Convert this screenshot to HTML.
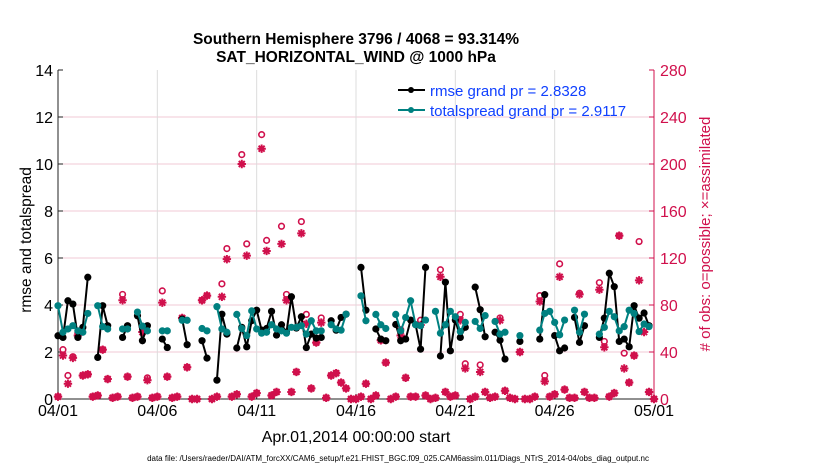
<!DOCTYPE html>
<html><head><meta charset="utf-8"><style>
body{margin:0;background:#fff;}
svg{display:block;font-family:"Liberation Sans",Arial,sans-serif;}
</style></head><body>
<svg id="chart" width="830" height="470" viewBox="0 0 830 470" xmlns="http://www.w3.org/2000/svg">
<text x="356" y="44" text-anchor="middle" font-size="15.5" font-weight="bold">Southern Hemisphere 3796 / 4068 = 93.314%</text>
<text x="356" y="62" text-anchor="middle" font-size="15.5" font-weight="bold">SAT_HORIZONTAL_WIND @ 1000 hPa</text>
<g id="grid"></g>
<g id="axes"></g>
<g id="marks"></g>
<g>
<line x1="398" y1="90" x2="425" y2="90" stroke="#000" stroke-width="2"/><circle cx="411" cy="90" r="3" fill="#000"/>
<text x="430" y="96" font-size="15" fill="#1040ff">rmse grand pr = 2.8328</text>
<line x1="398" y1="110" x2="425" y2="110" stroke="#008080" stroke-width="2"/><circle cx="411" cy="110" r="3" fill="#008080"/>
<text x="430" y="116" font-size="15" fill="#1040ff">totalspread grand pr = 2.9117</text>
</g>
<text transform="translate(31,240) rotate(-90)" text-anchor="middle" font-size="15.5">rmse and totalspread</text>
<text transform="translate(710,234) rotate(-90)" text-anchor="middle" font-size="15" fill="#d0104c"># of obs: o=possible; ×=assimilated</text>
<text x="356" y="442" text-anchor="middle" font-size="16">Apr.01,2014 00:00:00 start</text>
<text x="398" y="461" text-anchor="middle" font-size="8">data file: /Users/raeder/DAI/ATM_forcXX/CAM6_setup/f.e21.FHIST_BGC.f09_025.CAM6assim.011/Diags_NTrS_2014-04/obs_diag_output.nc</text>
</svg>
<script>
const xTickLabels=["04/01","04/06","04/11","04/16","04/21","04/26","05/01"];
const yLeftTicks=[0,2,4,6,8,10,12,14];
const yRightTicks=[0,40,80,120,160,200,240,280];
const N=121;
const rmse=[2.69,2.62,4.18,4.04,2.62,3.05,5.18,null,1.77,3.97,3.12,null,null,2.62,3.12,null,3.54,2.48,3.12,null,null,2.55,2.19,null,null,3.4,2.31,null,null,2.48,1.74,null,0.8,3.61,2.76,null,2.17,3.05,2.22,3.33,3.78,2.93,3.0,3.73,2.72,3.16,2.84,4.35,3.02,3.5,2.19,2.76,2.59,2.62,null,3.33,2.93,3.47,3.61,null,null,5.6,3.78,null,2.98,2.55,2.48,null,3.17,2.48,2.55,3.36,3.16,2.12,5.6,null,null,1.83,4.97,2.05,3.36,2.62,3.05,null,4.76,3.8,2.65,null,2.84,2.5,1.7,null,null,2.45,null,null,null,2.55,4.44,null,2.7,2.05,2.17,null,3.47,2.41,3.12,null,null,2.62,3.44,5.35,4.78,2.45,2.55,2.22,3.97,3.44,3.66,3.12,null];
const spread=[3.97,2.84,2.98,3.12,2.9,2.84,3.64,null,3.97,3.08,2.98,null,null,2.98,2.98,null,3.7,3.1,2.9,null,null,2.9,2.9,null,null,3.35,3.35,null,null,3.0,2.9,null,3.93,2.98,2.84,null,3.6,3.0,2.7,3.75,2.98,2.8,2.84,3.16,2.98,2.9,2.8,3.05,3.05,3.12,2.76,3.33,2.9,2.9,null,3.16,2.98,2.93,3.61,null,null,4.39,3.33,null,3.6,3.16,3.0,null,3.6,2.9,3.47,4.18,3.16,3.12,3.36,null,3.73,2.8,3.16,3.73,3.5,2.87,3.26,null,3.3,3.0,3.55,null,3.3,2.76,2.84,null,null,2.7,null,null,null,2.93,3.64,3.73,3.26,2.73,3.36,null,3.78,2.84,3.61,null,null,2.76,3.05,3.73,3.5,2.9,3.08,3.78,3.64,2.87,3.19,3.08,null];
const assimilated=[2,37,13,35,54,20,21,2,3,42,17,1,2,84,19,1,2,57,16,1,2,82,19,1,2,69,27,0,0,84,88,0,2,87,119,2,4,200,122,2,5,213,126,3,6,132,84,6,23,141,64,9,48,65,1,20,22,14,9,0,0,2,13,0,3,50,31,0,2,54,18,2,2,63,3,0,1,104,6,2,3,67,26,0,2,23,6,1,2,67,7,1,0,40,0,0,2,83,15,2,4,104,8,1,1,89,6,1,1,93,44,2,5,139,26,14,37,101,57,6,0];
const possible=[2,42,20,36,56,20,21,2,3,42,17,1,2,89,19,1,2,61,18,1,2,92,19,1,2,69,27,0,0,84,88,0,2,98,128,2,4,208,132,2,5,225,135,3,6,147,89,6,23,151,72,9,48,69,1,20,22,14,9,0,0,2,13,0,3,50,31,0,2,59,18,2,2,67,3,0,1,110,6,2,3,72,30,0,2,29,6,1,2,69,7,1,0,40,0,0,2,88,20,2,4,115,8,1,1,90,6,1,1,99,49,2,5,139,39,14,37,134,60,6,0];

const X0=58,X1=654,Y0=399,Y1=70;
const NS="http://www.w3.org/2000/svg";
function xScale(i){return X0+(X1-X0)*i/(N-1);}
function yLeft(v){return Y0-(Y0-Y1)*v/14;}
function yRight(v){return Y0-(Y0-Y1)*v/280;}
function mk(tag,attrs,parent){const e=document.createElementNS(NS,tag);for(const k in attrs)e.setAttribute(k,attrs[k]);parent.appendChild(e);return e;}
const grid=document.getElementById('grid'),axes=document.getElementById('axes'),marks=document.getElementById('marks');

yLeftTicks.forEach((v,k)=>{
  const y=yLeft(v);
  if(k>0&&k<yLeftTicks.length-1){
    const g=mk('line',{x1:X0,x2:X1,y1:y,y2:y,stroke:'#f2c8d6','stroke-width':1},grid);
    
    
  }
  const t=mk('text',{x:X0-5,y:y+6,'text-anchor':'end','font-size':16},axes);
  t.textContent=v;
  
  
  mk('line',{x1:X0,x2:X0+5,y1:y,y2:y,stroke:'#222'},axes);
});
yRightTicks.forEach(v=>{
  const y=yRight(v);
  const t=mk('text',{x:X1+6,y:y+6,'font-size':16,fill:'#d0104c'},axes);
  t.textContent=v;
  
  
  mk('line',{x1:X1-5,x2:X1,y1:y,y2:y,stroke:'#d0104c'},axes);
});
xTickLabels.forEach((lab,k)=>{
  const x=X0+(X1-X0)*k/6;
  if(k>0&&k<6){
    const g=mk('line',{x1:x,x2:x,y1:Y1,y2:Y0,stroke:'#dcdcdc','stroke-width':1},grid);
    
    
  }
  mk('line',{x1:x,x2:x,y1:Y0,y2:Y0-5,stroke:'#222'},axes);
  const t=mk('text',{x:x,y:Y0+17,'text-anchor':'middle','font-size':16},axes);
  t.textContent=lab;
  
  
});
const la=mk('line',{x1:X0,x2:X0,y1:Y1,y2:Y0,stroke:'#222','stroke-width':1},axes);


const ra=mk('line',{x1:X1,x2:X1,y1:Y1,y2:Y0,stroke:'#d0104c','stroke-width':1},axes);


const ba=mk('line',{x1:X0,x2:X1,y1:Y0,y2:Y0,stroke:'#222','stroke-width':1},axes);



possible.forEach((v,i)=>{
  if(v==null)return;
  const c=mk('circle',{cx:xScale(i),cy:yRight(v),r:2.8,fill:'none',stroke:'#d0104c','stroke-width':1.6},marks);
  
  
});
assimilated.forEach((v,i)=>{
  if(v==null)return;
  const x=xScale(i),y=yRight(v),s=4.2;
  const p=mk('path',{d:`M${x-s} ${y}H${x+s}M${x} ${y-s}V${y+s}M${x-3} ${y-3}L${x+3} ${y+3}M${x-3} ${y+3}L${x+3} ${y-3}`,stroke:'#d0104c','stroke-width':2},marks);
  
  
});
function series(arr,color,name){
  let d='';let pen=false;
  arr.forEach((v,i)=>{ if(v==null){pen=false;return;} d+=(pen?'L':'M')+xScale(i).toFixed(1)+' '+yLeft(v).toFixed(1); pen=true;});
  const p=mk('path',{d:d,fill:'none',stroke:color,'stroke-width':2},marks);
  
  
  arr.forEach((v,i)=>{ if(v==null)return;
    const c=mk('circle',{cx:xScale(i),cy:yLeft(v),r:3.6,fill:color},marks);
    
    
  });
}
series(rmse,'#000','rmse');
series(spread,'#008080','totalspread');
</script>
</body></html>
